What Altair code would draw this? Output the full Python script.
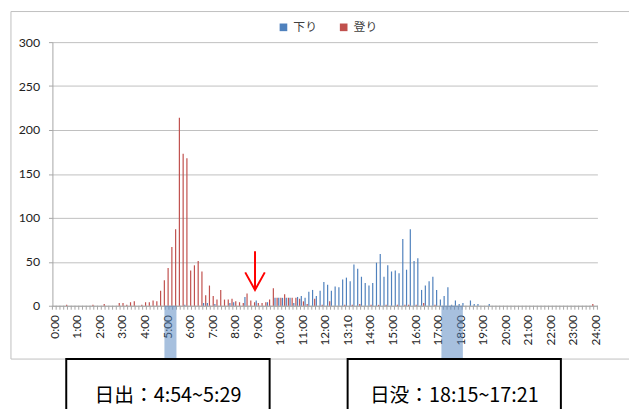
import json
import altair as alt
import pandas as pd

# ---------------- data ----------------
HOUR_LABELS = ["0:00", "1:00", "2:00", "3:00", "4:00", "5:00", "6:00", "7:00", "8:00",
               "9:00", "10:00", "11:00", "12:00", "13:10", "14:00", "15:00", "16:00",
               "17:00", "18:00", "19:00", "20:00", "21:00", "22:00", "23:00", "24:00"]

SERIES = ["下り", "登り"]
COLORS = ["#4F81BD", "#C0504D"]

# 10-minute bins, 0:00 .. 24:00 (145 categories)
DOWN = [
    0, 0, 0, 0, 0, 0, 0, 0, 0, 0, 0, 0,
    0, 0, 0, 0, 0, 0, 0, 0, 0, 0, 0, 0,
    0, 0, 0, 0, 0, 0, 0, 0, 0, 0, 0, 1,
    0, 0, 0, 0, 3, 3, 0, 2, 0, 0, 0, 3,
    4, 0, 0, 10, 0, 0, 6, 0, 0, 4, 0, 9,
    9, 9, 9, 9, 3, 10, 11, 9, 16, 18, 11, 17,
    27, 24, 17, 22, 21, 30, 32, 28, 47, 42, 33, 26,
    23, 26, 49, 59, 33, 46, 39, 40, 37, 76, 41, 87,
    51, 54, 18, 23, 28, 33, 18, 7, 11, 21, 1, 6,
    2, 3, 0, 6, 2, 2, 0, 0, 2, 0, 0, 0,
    0, 0, 0, 0, 0, 0, 0, 0, 0, 0, 0, 0,
    0, 0, 0, 0, 0, 0, 0, 0, 0, 0, 0, 0,
    0,
]
UP = [
    0, 0, 0, 1, 0, 0, 0, 0, 0, 0, 1, 0,
    0, 2, 0, 0, 0, 3, 3, 1, 4, 5, 0, 1,
    4, 4, 6, 5, 17, 29, 43, 67, 87, 214, 173, 168,
    40, 46, 51, 39, 12, 23, 11, 7, 18, 7, 7, 8,
    5, 4, 3, 14, 6, 4, 3, 3, 4, 7, 20, 9,
    9, 13, 9, 9, 9, 8, 5, 2, 0, 8, 0, 1,
    0, 5, 0, 0, 0, 1, 0, 1, 0, 2, 0, 0,
    1, 0, 1, 0, 1, 0, 0, 1, 0, 1, 1, 0,
    1, 0, 3, 0, 0, 1, 0, 0, 0, 0, 0, 0,
    0, 0, 0, 0, 0, 0, 0, 0, 0, 0, 0, 0,
    0, 0, 0, 0, 0, 0, 0, 0, 0, 0, 0, 0,
    0, 0, 0, 0, 0, 0, 0, 0, 0, 0, 0, 2,
    0,
]
Y_TICKS = [0, 50, 100, 150, 200, 250, 300]

# annotations (x in bin units)
HIGHLIGHT_START = [29.3, 103.0]
HIGHLIGHT_END = [32.5, 108.7]
ARROW_X = 53.4
BOX_TEXTS = ["日出：4:54~5:29", "日没：18:15~17:21"]

# ---------------- build ----------------
rows = []
for i, (d, u) in enumerate(zip(DOWN, UP)):
    rows.append({"idx": i, "series": SERIES[0], "value": d})
    rows.append({"idx": i, "series": SERIES[1], "value": u})
df = pd.DataFrame(rows)

W, H = 552, 267
n = len(DOWN)
xscale = alt.Scale(domain=[-0.5, n - 0.5], nice=False, zero=False, padding=0)
yscale = alt.Scale(domain=[0, 300], nice=False)

label_expr = json.dumps(HOUR_LABELS) + "[round(datum.value / 6)]"

bars = alt.Chart(df).transform_filter("datum.value > 0").transform_calculate(
    xs="datum.idx + (datum.series === '下り' ? -0.28 : 0.28)"
).mark_bar(size=1.2).encode(
    x=alt.X("xs:Q", scale=xscale, title=None, axis=alt.Axis(
        values=[6 * k for k in range(len(HOUR_LABELS))], labelExpr=label_expr,
        tickCount=100,
        labelAngle=-90, ticks=False, tickSize=0, labelPadding=9,
        labelOverlap=False, labelFlush=False, grid=False,
        domainColor="#A6A6A6",
        labelFontSize=12, labelColor="#222222", labelFont="Lato")),
    y=alt.Y("value:Q", scale=yscale, title=None, axis=alt.Axis(
        values=Y_TICKS, tickCount=20, grid=True, gridColor="#BFBFBF", gridWidth=1,
        domainColor="#A6A6A6", tickColor="#A6A6A6", tickSize=4,
        labelPadding=9, labelFontSize=12.5, labelColor="#222222", labelFont="Lato")),
    color=alt.Color("series:N", scale=alt.Scale(domain=SERIES, range=COLORS),
                    legend=alt.Legend(orient="none", legendX=228, legendY=-21,
                                      direction="horizontal", title=None,
                                      symbolType="square", symbolSize=60,
                                      symbolStrokeWidth=0, columnPadding=20,
                                      labelFont="Noto Sans CJK JP", labelFontSize=12,
                                      labelColor="#404040")),
)

# category-boundary tick marks along the x axis
tick_df = pd.DataFrame({"b": [i - 0.5 for i in range(n + 1)]})
xticks = alt.Chart(tick_df).mark_rule(color="#A6A6A6", strokeWidth=1).encode(
    x=alt.X("b:Q", scale=xscale, title=None),
    y=alt.value(H), y2=alt.value(H + 4),
)

hl_df = pd.DataFrame({"x1": HIGHLIGHT_START, "x2": HIGHLIGHT_END})
highlight = alt.Chart(hl_df).mark_rect(color="#4F81BD", opacity=0.5).encode(
    x=alt.X("x1:Q", scale=xscale, title=None), x2="x2:Q",
    y=alt.value(H), y2=alt.value(H + 54),
)

shaft_df = pd.DataFrame({"x": [ARROW_X], "y1": [62], "y2": [18]})
shaft = alt.Chart(shaft_df).mark_rule(color="#FF0000", strokeWidth=2).encode(
    x=alt.X("x:Q", scale=xscale, title=None),
    y=alt.Y("y1:Q", scale=yscale, title=None), y2="y2:Q",
)
head_df = pd.DataFrame({"x": [ARROW_X - 2.6, ARROW_X, ARROW_X + 2.6],
                        "y": [38, 18, 38], "o": [0, 1, 2]})
head = alt.Chart(head_df).mark_line(color="#FF0000", strokeWidth=2).encode(
    x=alt.X("x:Q", scale=xscale, title=None),
    y=alt.Y("y:Q", scale=yscale, title=None), order="o:Q",
)

one = pd.DataFrame({"a": [0]})


def rule(x1, x2, y1, y2, color, w):
    return alt.Chart(one).mark_rule(color=color, strokeWidth=w).encode(
        x=alt.value(x1), x2=alt.value(x2), y=alt.value(y1), y2=alt.value(y2))


frame = [
    rule(-42, -42, -31, 321, "#BFBFBF", 1),
    rule(-42, 620, -31, -31, "#BFBFBF", 1),
    rule(-42, 620, 321, 321, "#BFBFBF", 1),
]

boxes = []
for (bx1, bx2, tx), txt in zip([(14, 220, 117), (299, 515, 407)], BOX_TEXTS):
    boxes.append(alt.Chart(one).mark_rect(fill="white", stroke="black", strokeWidth=2).encode(
        x=alt.value(bx1), x2=alt.value(bx2), y=alt.value(321), y2=alt.value(440)))
    boxes.append(alt.Chart(one).mark_text(font="Noto Sans CJK JP", fontSize=20,
                                          color="black", align="center",
                                          baseline="alphabetic", text=txt).encode(
        x=alt.value(tx), y=alt.value(364)))

chart = alt.layer(bars, xticks, highlight, shaft, head, *frame, *boxes).properties(
    width=W, height=H,
    padding={"left": 45, "top": 32, "right": 32, "bottom": 102},
    autosize=alt.AutoSizeParams(type="none"),
).configure_view(stroke="transparent")

chart.save("out.html", embed_options={"renderer": "svg", "actions": False})
